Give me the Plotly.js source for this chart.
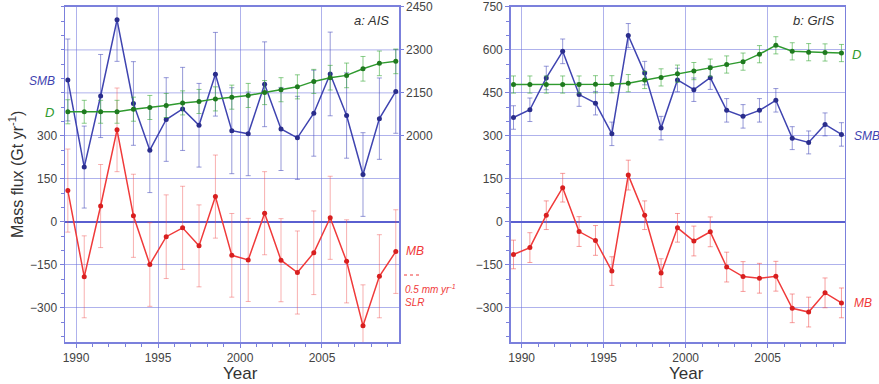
<!DOCTYPE html>
<html><head><meta charset="utf-8">
<script src="https://cdn.plot.ly/plotly-3.0.1.min.js"></script>
<style>html,body{margin:0;padding:0;background:#fff}#c{width:879px;height:384px}</style>
</head><body><div id="c"></div>
<script>
const years = [1989.5,1990.5,1991.5,1992.5,1993.5,1994.5,1995.5,1996.5,1997.5,1998.5,1999.5,2000.5,2001.5,2002.5,2003.5,2004.5,2005.5,2006.5,2007.5,2008.5,2009.5];
// Antarctica (AIS)
const aisSMB = [495,191,439,705,413,250,357,394,337,515,318,307,480,324,293,379,516,371,165,360,455];
const aisSMBerr = [143,143,145,145,146,148,146,145,146,146,150,146,148,145,145,150,146,149,146,142,146];
const aisD = [2084,2084,2084,2084,2093,2099,2106,2115,2120,2129,2135,2141,2151,2161,2171,2190,2203,2211,2234,2253,2260]; // right axis
const aisDerr = [42,40,40,40,42,42,42,42,42,42,42,42,42,42,42,42,43,43,43,43,43];
const aisMB = [109,-192,55,321,21,-149,-52,-21,-84,88,-117,-133,30,-134,-177,-108,14,-138,-363,-190,-104];
const aisMBerr = [145,143,145,146,145,146,146,145,143,145,146,145,145,145,145,146,145,145,143,145,146];
// Greenland (GrIS)
const grisSMB = [364,391,502,595,444,414,307,650,519,327,495,461,503,389,368,389,424,292,277,340,305];
const grisSMBerr = [41,41,41,43,41,41,41,42,41,41,41,41,41,41,41,41,41,40,40,40,41];
const grisD = [479,479,479,479,479,480,480,484,495,504,517,526,538,549,559,585,616,595,592,591,589];
const grisDerr = [30,30,30,30,30,30,30,30,30,30,30,30,30,30,30,30,30,30,30,30,30];
const grisMB = [-114,-90,23,119,-34,-65,-172,163,23,-179,-21,-67,-35,-158,-191,-197,-190,-302,-315,-248,-283];
const grisMBerr = [50,52,50,50,52,52,50,52,50,50,50,52,52,52,52,52,52,50,52,52,52];

const xTicks = [1990,1995,2000,2005];
const leftTicks = [-300,-150,0,150,300];
const leftExtraGrid = [450,600];
const rightTicks = [-300,-150,0,150,300,450,600,750];
const aisRightTicks = [2000,2150,2300,2450];

const BLUE='#3f44b0', BLUEM='#2a2d8c', GREEN='#2f9a2f', GREENM='#1f7a1f', RED='#f03a3a', REDM='#d81f1f';
const GRID='rgba(110,115,220,0.55)', FRAME='#7b80dc';
const F = 'Liberation Sans, Arial, sans-serif';

function tr(x,y,err,color,mcolor,xa,ya,ecolor){
  return {x:x,y:y,xaxis:xa,yaxis:ya,type:'scatter',mode:'lines+markers',
    line:{color:color,width:1.5},marker:{color:mcolor,size:5},
    error_y:{type:'data',array:err,visible:true,color:ecolor,thickness:1,width:2.5},
    showlegend:false,hoverinfo:'skip'};
}
const data = [
  tr(years,aisSMB,aisSMBerr,BLUE,BLUEM,'x','y','rgba(80,85,190,0.6)'),
  tr(years,aisMB,aisMBerr,RED,REDM,'x','y','rgba(240,80,80,0.45)'),
  tr(years,aisD,aisDerr,GREEN,GREENM,'x','y2','rgba(60,170,60,0.6)'),
  tr(years,grisSMB,grisSMBerr,BLUE,BLUEM,'x2','y3','rgba(80,85,190,0.6)'),
  tr(years,grisD,grisDerr,GREEN,GREENM,'x2','y3','rgba(60,170,60,0.6)'),
  tr(years,grisMB,grisMBerr,RED,REDM,'x2','y3','rgba(240,80,80,0.55)')
];
const xax = (dom,anchor)=>({domain:dom,anchor:anchor,range:[1989.33,2009.7],tickvals:xTicks,ticks:'outside',ticklen:4,tickcolor:FRAME,
  showgrid:true,gridcolor:GRID,gridwidth:1,zeroline:false,showline:true,linecolor:FRAME,linewidth:1.5,mirror:true,
  tickfont:{family:F,size:12,color:'#444'},
  minor:{dtick:1,ticks:'outside',ticklen:3,tickcolor:FRAME,showgrid:false}});
const yDom=[0.109,0.982];
const shapes = leftExtraGrid.map(v=>({type:'line',xref:'x domain',yref:'y',x0:0,x1:1,y0:v,y1:v,layer:'below',line:{color:GRID,width:1}}));
shapes.push({type:'line',xref:'paper',yref:'paper',x0:404/879,x1:422/879,y0:1-275/384,y1:1-275/384,line:{color:RED,width:1,dash:'dot'}});
const layout = {
  width:879,height:384,margin:{l:0,r:0,t:0,b:0},paper_bgcolor:'#fff',plot_bgcolor:'#fff',
  xaxis:xax([0.074,0.454],'y'),
  xaxis2:xax([0.581,0.961],'y3'),
  yaxis:{domain:yDom,anchor:'x',range:[-420,750],tickvals:leftTicks,ticks:'outside',ticklen:4,tickcolor:FRAME,
    showgrid:true,gridcolor:GRID,zeroline:true,zerolinecolor:'#5a5fd0',zerolinewidth:2,showline:true,linecolor:FRAME,linewidth:1.5,
    tickfont:{family:F,size:12,color:'#444'},minor:{dtick:50,ticks:'outside',ticklen:3,tickcolor:FRAME,showgrid:false}},
  yaxis2:{domain:yDom,anchor:'x',overlaying:'y',side:'right',range:[1280,2450],tickvals:aisRightTicks,ticks:'outside',ticklen:3,tickcolor:FRAME,
    showgrid:false,zeroline:false,showline:true,linecolor:FRAME,linewidth:1.5,tickfont:{family:F,size:12,color:'#444'}},
  yaxis3:{domain:yDom,anchor:'x2',range:[-420,750],tickvals:rightTicks,ticks:'outside',ticklen:4,tickcolor:FRAME,
    showgrid:true,gridcolor:GRID,zeroline:true,zerolinecolor:'#5a5fd0',zerolinewidth:2,showline:true,linecolor:FRAME,linewidth:1.5,mirror:true,
    tickfont:{family:F,size:12,color:'#444'},minor:{dtick:50,ticks:'outside',ticklen:3,tickcolor:FRAME,showgrid:false}},
  shapes:shapes,
  annotations:[
    {text:'<i>a: AIS</i>',xref:'paper',yref:'paper',x:391/879,y:1-20/384,xanchor:'right',yanchor:'middle',showarrow:false,font:{family:F,size:13,color:'#333'}},
    {text:'<i>b: GrIS</i>',xref:'paper',yref:'paper',x:837/879,y:1-20/384,xanchor:'right',yanchor:'middle',showarrow:false,font:{family:F,size:13,color:'#333'}},
    {text:'<i>SMB</i>',xref:'paper',yref:'paper',x:57/879,y:1-81/384,xanchor:'right',yanchor:'middle',showarrow:false,font:{family:F,size:12,color:BLUE}},
    {text:'<i>D</i>',xref:'paper',yref:'paper',x:56/879,y:1-113/384,xanchor:'right',yanchor:'middle',showarrow:false,font:{family:F,size:13,color:GREEN}},
    {text:'<i>MB</i>',xref:'paper',yref:'paper',x:404/879,y:1-251/384,xanchor:'left',yanchor:'middle',showarrow:false,font:{family:F,size:12,color:RED}},
    {text:'<i>0.5 mm yr<sup>-1</sup></i>',xref:'paper',yref:'paper',x:403/879,y:1-289/384,xanchor:'left',yanchor:'middle',showarrow:false,font:{family:F,size:10,color:RED}},
    {text:'<i>SLR</i>',xref:'paper',yref:'paper',x:403/879,y:1-302/384,xanchor:'left',yanchor:'middle',showarrow:false,font:{family:F,size:10,color:RED}},
    {text:'<i>D</i>',xref:'paper',yref:'paper',x:850/879,y:1-55/384,xanchor:'left',yanchor:'middle',showarrow:false,font:{family:F,size:13,color:GREEN}},
    {text:'<i>SMB</i>',xref:'paper',yref:'paper',x:852/879,y:1-136/384,xanchor:'left',yanchor:'middle',showarrow:false,font:{family:F,size:12,color:BLUE}},
    {text:'<i>MB</i>',xref:'paper',yref:'paper',x:852/879,y:1-303/384,xanchor:'left',yanchor:'middle',showarrow:false,font:{family:F,size:12,color:RED}},
    {text:'Year',xref:'paper',yref:'paper',x:240/879,y:1-373/384,xanchor:'center',yanchor:'middle',showarrow:false,font:{family:F,size:17,color:'#333'}},
    {text:'Year',xref:'paper',yref:'paper',x:686/879,y:1-373/384,xanchor:'center',yanchor:'middle',showarrow:false,font:{family:F,size:17,color:'#333'}},
    {text:'Mass flux (Gt yr<sup>-1</sup>)',xref:'paper',yref:'paper',x:16/879,y:1-175/384,xanchor:'center',yanchor:'middle',textangle:-90,showarrow:false,font:{family:F,size:16,color:'#333'}}
  ]
};
Plotly.newPlot('c',data,layout,{staticPlot:true,displayModeBar:false});
</script></body></html>
